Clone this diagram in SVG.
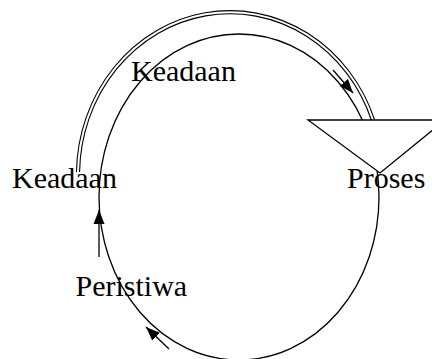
<svg xmlns="http://www.w3.org/2000/svg" width="432" height="359" viewBox="0 0 432 359">
<style>
.ln{fill:none;stroke:#000;stroke-width:1.3}
.dbl-o{fill:none;stroke:#000;stroke-width:4.2}
.dbl-i{fill:none;stroke:#fff;stroke-width:2}
.lbl{font-family:"Liberation Serif","Times New Roman",serif;font-size:30px;fill:#000}
.arr{fill:none;stroke:#000;stroke-width:1.3;marker-end:url(#ah)}
</style>
<defs>
<marker id="ah" markerUnits="userSpaceOnUse" markerWidth="14" markerHeight="12" refX="14" refY="6" orient="auto">
<path d="M0,0.5 L14,6 L0,11.5 z" fill="#000"/>
</marker>
</defs>
<rect width="432" height="359" fill="#fff"/>
<g id="connectors">
<ellipse id="cycle" class="ln" cx="239" cy="197" rx="140" ry="163"/>
<path class="dbl-o" d="M373,120 A152 163 0 0 0 78,172"/>
<path class="dbl-i" d="M373,120 A152 163 0 0 0 78,172"/>
<line class="arr" x1="333" y1="70" x2="353" y2="93"/>
<line class="arr" x1="99" y1="257" x2="99" y2="210"/>
<line class="arr" x1="169" y1="349" x2="146" y2="327"/>
</g>
<g id="proses">
<polygon points="308,120 445,120 380,173" fill="#fff" stroke="#000" stroke-width="1.3"/>
<text class="lbl" x="347" y="188">Proses</text>
</g>
<g id="keadaan-top">
<text class="lbl" x="131" y="81">Keadaan</text>
</g>
<g id="keadaan-left">
<text class="lbl" x="12" y="188">Keadaan</text>
</g>
<g id="peristiwa">
<text class="lbl" x="75.5" y="296">Peristiwa</text>
</g>
</svg>
